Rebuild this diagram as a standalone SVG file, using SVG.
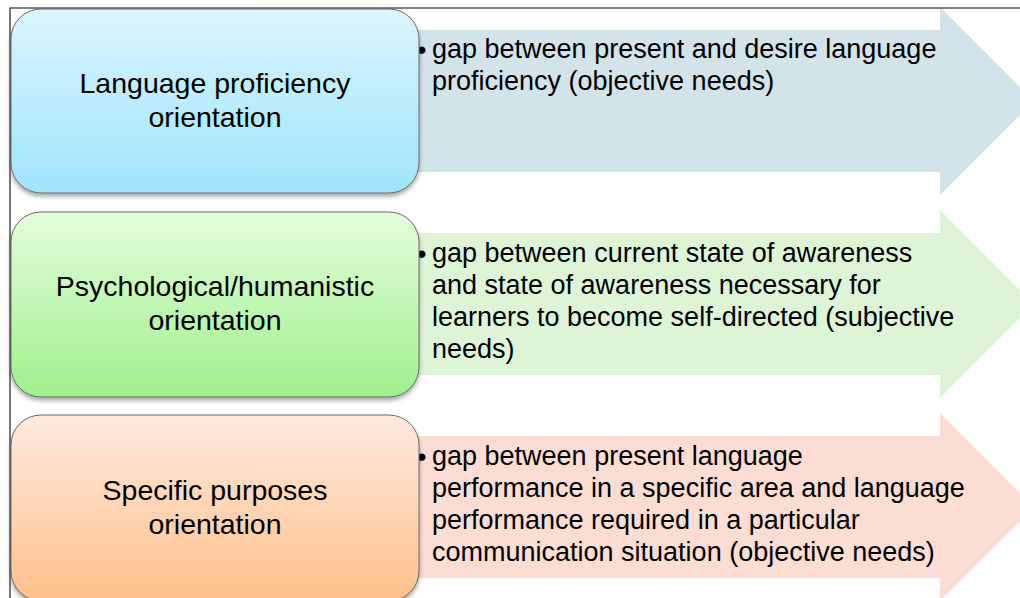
<svg xmlns="http://www.w3.org/2000/svg" width="1020" height="598" viewBox="0 0 1020 598">
  <style>
    .box-text { font-family: "Liberation Sans", Arial, sans-serif; font-size: 28.5px; fill: #000; text-anchor: middle; }
    .arrow-text { font-family: "Liberation Sans", Arial, sans-serif; font-size: 27px; fill: #000; }
    .bullet { font-family: "Liberation Sans", Arial, sans-serif; font-size: 27px; fill: #000; }
    .box { stroke: #6a6a6a; stroke-width: 1; filter: url(#shadow); }
    .frame { stroke: #555; stroke-width: 1.6; fill: none; }
  </style>
  <defs>
    <linearGradient id="gBlue" x1="0" y1="0" x2="0" y2="1">
      <stop offset="0" stop-color="#DAF5FE"/>
      <stop offset="1" stop-color="#9FE4FB"/>
    </linearGradient>
    <linearGradient id="gGreen" x1="0" y1="0" x2="0" y2="1">
      <stop offset="0" stop-color="#E4FDDC"/>
      <stop offset="1" stop-color="#9FF08C"/>
    </linearGradient>
    <linearGradient id="gOrange" x1="0" y1="0" x2="0" y2="1">
      <stop offset="0" stop-color="#FEEADD"/>
      <stop offset="1" stop-color="#FFC08C"/>
    </linearGradient>
    <filter id="shadow" x="-5%" y="-5%" width="110%" height="115%">
      <feDropShadow dx="0" dy="3" stdDeviation="2" flood-color="#000" flood-opacity="0.35"/>
    </filter>
  </defs>

  <rect x="0" y="0" width="1020" height="598" fill="#fff"/>

  <g id="connectors">
    <path id="arrow1" d="M380 30 H940 V7 L1034 101 L940 195 V172 H380 Z" fill="#D3E3EA"/>
    <path id="arrow2" d="M380 233 H940 V210 L1034 304 L940 398 V375 H380 Z" fill="#DDF5D6"/>
    <path id="arrow3" d="M380 436 H940 V413 L1034 507 L940 601 V578 H380 Z" fill="#FBDDD3"/>
  </g>

  <g id="text1">
    <text class="bullet" x="417" y="59">•</text>
    <text class="arrow-text" x="432" y="58">gap between present and desire language</text>
    <text class="arrow-text" x="432" y="90">proficiency (objective needs)</text>
  </g>
  <g id="text2">
    <text class="bullet" x="417" y="263">•</text>
    <text class="arrow-text" x="432" y="262">gap between current state of awareness</text>
    <text class="arrow-text" x="432" y="294">and state of awareness necessary for</text>
    <text class="arrow-text" x="432" y="326">learners to become self-directed (subjective</text>
    <text class="arrow-text" x="432" y="358">needs)</text>
  </g>
  <g id="text3">
    <text class="bullet" x="417" y="466">•</text>
    <text class="arrow-text" x="432" y="465">gap between present language</text>
    <text class="arrow-text" x="432" y="497">performance in a specific area and language</text>
    <text class="arrow-text" x="432" y="529">performance required in a particular</text>
    <text class="arrow-text" x="432" y="561">communication situation (objective needs)</text>
  </g>

  <g id="node1">
    <rect class="box" x="11" y="9" width="408" height="184" rx="30" ry="30" fill="url(#gBlue)"/>
    <text class="box-text" x="215" y="93">Language proficiency</text>
    <text class="box-text" x="215" y="127">orientation</text>
  </g>
  <g id="node2">
    <rect class="box" x="11" y="212" width="408" height="185" rx="30" ry="30" fill="url(#gGreen)"/>
    <text class="box-text" x="215" y="296">Psychological/humanistic</text>
    <text class="box-text" x="215" y="330">orientation</text>
  </g>
  <g id="node3">
    <rect class="box" x="11" y="415" width="408" height="186" rx="30" ry="30" fill="url(#gOrange)"/>
    <text class="box-text" x="215" y="500">Specific purposes</text>
    <text class="box-text" x="215" y="534">orientation</text>
  </g>

  <path class="frame" d="M10 598 V8 H1020"/>
</svg>
